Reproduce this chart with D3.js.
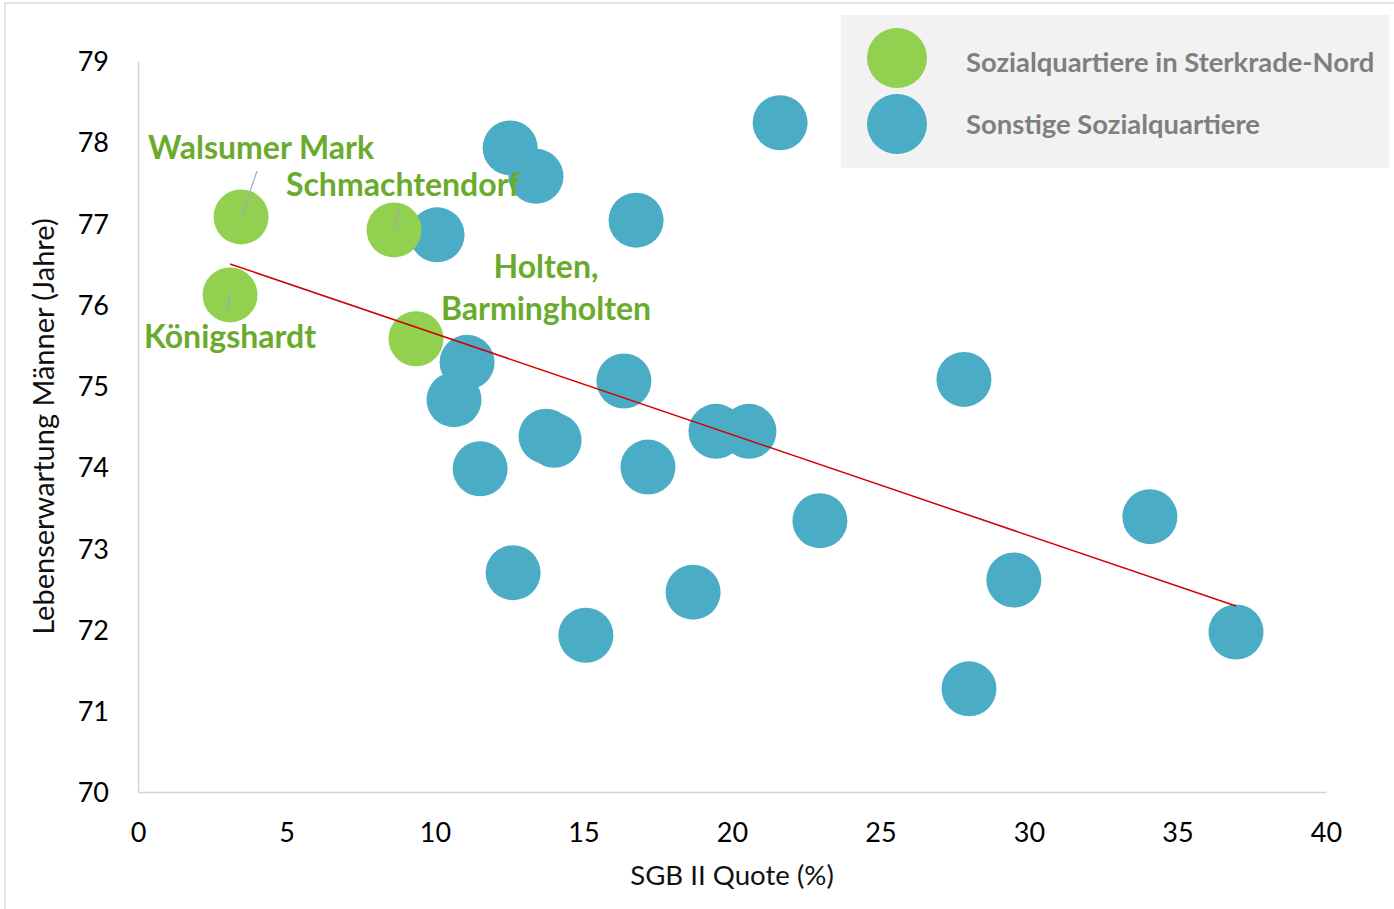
<!DOCTYPE html>
<html>
<head>
<meta charset="utf-8">
<script src="https://cdn.jsdelivr.net/npm/d3@7"></script>
<style>
  body { margin: 0; background: #fff; }
  text { font-family: Lato, "Open Sans", sans-serif; }
</style>
</head>
<body>
<svg id="chart" width="1394" height="909"></svg>
<script>
// data: SGB II Quote (%) vs. Lebenserwartung Maenner (Jahre)
const sgb_quote = [9.36, 12.53, 13.40, 10.07, 16.77, 21.62, 11.08, 10.64, 16.36, 13.74, 14.01, 11.52, 17.17, 19.46,
  20.57, 27.81, 22.96, 34.07, 29.49, 36.97, 27.98, 12.63, 15.08, 18.69, 3.47, 8.62, 3.10]
const lebenserwartung = [75.58, 77.93, 77.58, 76.86, 77.04, 78.24, 75.29, 74.83, 75.06, 74.38, 74.33, 73.98, 74.00, 74.44,
  74.44, 75.08, 73.34, 73.39, 72.61, 71.97, 71.27, 72.70, 71.93, 72.46, 77.08, 76.92, 76.12]
const gruppe = ['nord', 'sonst', 'sonst', 'sonst', 'sonst', 'sonst', 'sonst', 'sonst', 'sonst', 'sonst', 'sonst', 'sonst',
  'sonst', 'sonst', 'sonst', 'sonst', 'sonst', 'sonst', 'sonst', 'sonst', 'sonst', 'sonst', 'sonst', 'sonst', 'nord', 'nord', 'nord']
const quartier = ['Holten, Barmingholten', null, null, null, null, null, null, null, null, null, null, null, null, null,
  null, null, null, null, null, null, null, null, null, null, 'Walsumer Mark', 'Schmachtendorf', 'Königshardt']

const x_ticks = [0, 5, 10, 15, 20, 25, 30, 35, 40]
const y_ticks = [70, 71, 72, 73, 74, 75, 76, 77, 78, 79]
const legend_keys = ['nord', 'sonst']
const legend_labels = ['Sozialquartiere in Sterkrade-Nord', 'Sonstige Sozialquartiere']

const farbe = { nord: '#92d050', sonst: '#4bacc6' }
const label_farbe = '#6aab2e'

// label placement relative to its point (pixels)
const label_layout = {
  'Walsumer Mark': { dx: 20, dy: -58, lines: ['Walsumer Mark'], lead: [16, -46] },
  'Schmachtendorf': { dx: 9, dy: -34, lines: ['Schmachtendorf'], lead: [5, -22] },
  'Königshardt': { dx: 0, dy: 53, lines: ['Königshardt'], lead: [-3, 16] },
  'Holten, Barmingholten': { dx: 130, dy: -61, lines: ['Holten,', 'Barmingholten'], lead: null }
}

const svg = d3.select('#chart')
const points = sgb_quote.map((v, i) => ({ x: v, y: lebenserwartung[i], g: gruppe[i], name: quartier[i] }))

const x = d3.scaleLinear().domain([0, 40]).range([138, 1326])
const y = d3.scaleLinear().domain([70, 79]).range([792, 61])

// outer frame
svg.append('rect')
  .attr('x', 5).attr('y', 3).attr('width', 1400).attr('height', 920)
  .attr('fill', 'none').attr('stroke', '#d9d9d9').attr('stroke-width', 1.5)

// axes
const x_axis = svg.append('g')
  .attr('transform', 'translate(0,' + y(70) + ')')
  .call(d3.axisBottom(x).tickValues(x_ticks).tickSize(0).tickFormat(d3.format('d')))
x_axis.select('.domain').attr('stroke', '#d3d3df').attr('stroke-width', 1.5)
x_axis.selectAll('text')
  .attr('y', 50).attr('dy', 0)
  .attr('font-size', 27).attr('fill', '#000')
  .style('font-family', 'Lato')

const y_axis = svg.append('g')
  .attr('transform', 'translate(' + x(0) + ',0)')
  .call(d3.axisLeft(y).tickValues(y_ticks).tickSize(0).tickFormat(d3.format('d')))
y_axis.select('.domain').attr('stroke', '#d3d3df').attr('stroke-width', 1.5)
y_axis.selectAll('text')
  .attr('x', -29).attr('dy', '0.36em')
  .attr('font-size', 27).attr('fill', '#000')
  .style('font-family', 'Lato')

// axis titles
svg.append('text')
  .attr('x', (x(0) + x(40)) / 2).attr('y', 885)
  .attr('text-anchor', 'middle').attr('font-size', 27.6).attr('fill', '#111')
  .text('SGB II Quote (%)')

svg.append('text')
  .attr('transform', 'translate(54,' + (y(70) + y(79)) / 2 + ') rotate(-90)')
  .attr('text-anchor', 'middle').attr('font-size', 29).attr('fill', '#111')
  .text('Lebenserwartung Männer (Jahre)')

// points
svg.append('g').selectAll('circle')
  .data(points)
  .join('circle')
  .attr('cx', d => x(d.x))
  .attr('cy', d => y(d.y))
  .attr('r', 27.5)
  .attr('fill', d => farbe[d.g])

// leader lines
const labeled = points.filter(d => d.name)
svg.append('g').selectAll('line')
  .data(labeled.filter(d => label_layout[d.name].lead))
  .join('line')
  .attr('x1', d => x(d.x)).attr('y1', d => y(d.y))
  .attr('x2', d => x(d.x) + label_layout[d.name].lead[0])
  .attr('y2', d => y(d.y) + label_layout[d.name].lead[1])
  .attr('stroke', '#a5a5c0').attr('stroke-width', 1.2)

// linear trend line over all points, from min x to max x
const mx = d3.mean(sgb_quote), my = d3.mean(lebenserwartung)
const sxy = d3.sum(sgb_quote, (v, i) => (v - mx) * (lebenserwartung[i] - my))
const sxx = d3.sum(sgb_quote, v => (v - mx) * (v - mx))
const slope = sxy / sxx
const icpt = my - slope * mx
const trend = d3.extent(sgb_quote).map(v => [v, icpt + slope * v])
svg.append('path')
  .datum(trend)
  .attr('d', d3.line().x(d => x(d[0])).y(d => y(d[1])))
  .attr('fill', 'none').attr('stroke', '#d40000').attr('stroke-width', 1.5)

// labels
labeled.forEach(d => {
  const lay = label_layout[d.name]
  const t = svg.append('text')
    .attr('text-anchor', 'middle')
    .attr('font-size', 32).attr('font-weight', 'bold').attr('fill', label_farbe)
  lay.lines.forEach((ln, k) => {
    t.append('tspan')
      .attr('x', x(d.x) + lay.dx)
      .attr('y', y(d.y) + lay.dy + k * 42)
      .text(ln)
  })
})

// legend
const legend = svg.append('g')
legend.append('rect')
  .attr('x', 841).attr('y', 15).attr('width', 548).attr('height', 153)
  .attr('fill', '#f2f2f2')
legend_keys.forEach((k, i) => {
  legend.append('circle')
    .attr('cx', 897).attr('cy', 58 + i * 66).attr('r', 30)
    .attr('fill', farbe[k])
  legend.append('text')
    .attr('x', 966).attr('y', 72 + i * 62)
    .attr('font-size', 27.4).attr('font-weight', 'bold').attr('fill', '#7f7f7f')
    .text(legend_labels[i])
})
</script>
</body>
</html>
